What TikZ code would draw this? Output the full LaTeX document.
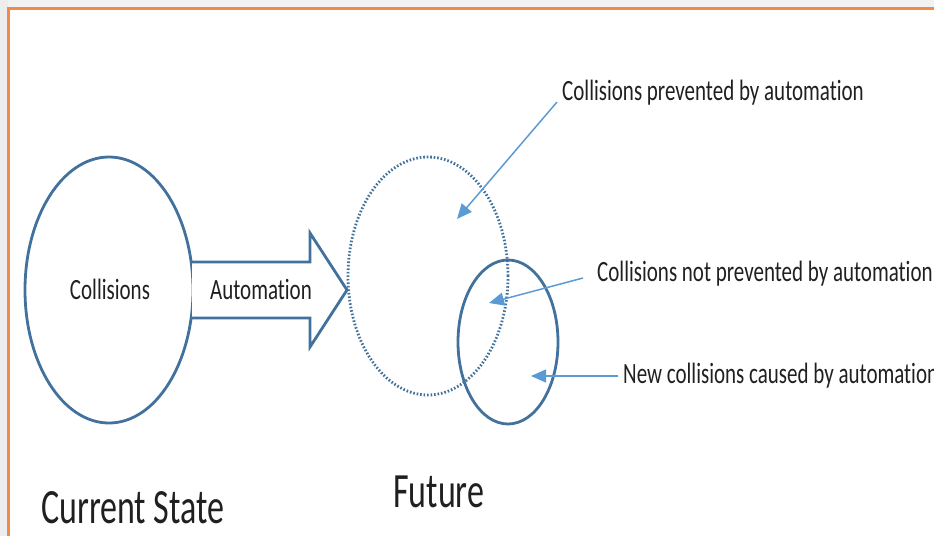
\documentclass[tikz,border=0pt]{standalone}
\usepackage{fontspec}
\setmainfont{Carlito}[Ligatures=NoCommon]
\usetikzlibrary{shapes.geometric,arrows.meta}
\definecolor{shapeblue}{HTML}{41719C}
\definecolor{callblue}{HTML}{5B9BD5}
\definecolor{frameorange}{HTML}{EF8A4C}
\definecolor{txt}{HTML}{202020}
\tikzset{
  oval/.style={ellipse, draw=shapeblue, line width=2.8pt, inner sep=0pt},
  dottedoval/.style={ellipse, draw=shapeblue, line width=2.8pt, inner sep=0pt, dash pattern=on 1.6pt off 1.9pt},
  callout/.style={draw=callblue, line width=1.5pt, -{Triangle[length=15pt,width=13pt]}},
  smalltxt/.style={text=txt, inner sep=0pt, font=\fontsize{21}{25}\selectfont},
  bigtxt/.style={text=txt, inner sep=0pt, font=\fontsize{34}{40}\selectfont},
}
\newcommand{\vstretch}[1]{\scalebox{1}[1.4]{#1}}
\newcommand{\vstretchbig}[1]{\scalebox{1}[1.45]{#1}}
\begin{document}
\begin{tikzpicture}[x=1pt,y=-1pt]
\useasboundingbox (0,0) rectangle (934,536);
\clip (0,0) rectangle (934,536);
% background strips
\fill[gray!10] (0,0) rectangle (934,7);
\fill[gray!14] (0,0) rectangle (8,536);
% frame
\draw[frameorange, line width=2.6pt] (8.5,536) -- (8.5,8.5) -- (934,8.5);
% current state circle
\node[oval, minimum width=168pt, minimum height=266pt] (cur) at (109,290) {};
% block arrow
\coordinate (sa) at (192,262);
\coordinate (sb) at (310,262);
\coordinate (sc) at (310,233);
\coordinate (tip) at (347,290);
\coordinate (sd) at (310,347);
\coordinate (se) at (310,318);
\coordinate (sf) at (192,318);
\draw[shapeblue, line width=2.8pt, line join=miter, fill=white] (sa) -- (sb) -- (sc) -- (tip) -- (sd) -- (se) -- (sf);
% future ellipses
\node[dottedoval, minimum width=160pt, minimum height=238pt] (prev) at (428,276) {};
\node[oval, minimum width=100pt, minimum height=164pt] (newc) at (508,342) {};
% texts
\node[smalltxt, anchor=base] (coll) at (110,299) {\vstretch{Collisions}};
\node[smalltxt, anchor=base] (auto) at (261,299) {\vstretch{Automation}};
\node[smalltxt, anchor=base west] (l1) at (562,100) {\vstretch{Collisions prevented by automation}};
\node[smalltxt, anchor=base west] (l2) at (597,281) {\vstretch{Collisions not prevented by automation}};
\node[smalltxt, anchor=base west] (l3) at (623,383) {\vstretch{New collisions caused by automation}};
\node[bigtxt, anchor=base west] (cs) at (41,523) {\vstretchbig{Current State}};
\node[bigtxt, anchor=base west] (fut) at (393,507) {\vstretchbig{Future}};
% callout arrows
\coordinate (a1s) at (557,102);
\coordinate (a1t) at (457,219);
\coordinate (a2s) at (583,278);
\coordinate (a2t) at (489,303);
\coordinate (a3s) at (618,376);
\coordinate (a3t) at (531,376);
\draw[callout] (a1s) -- (a1t);
\draw[callout] (a2s) -- (a2t);
\draw[callout] (a3s) -- (a3t);
\end{tikzpicture}
\end{document}
